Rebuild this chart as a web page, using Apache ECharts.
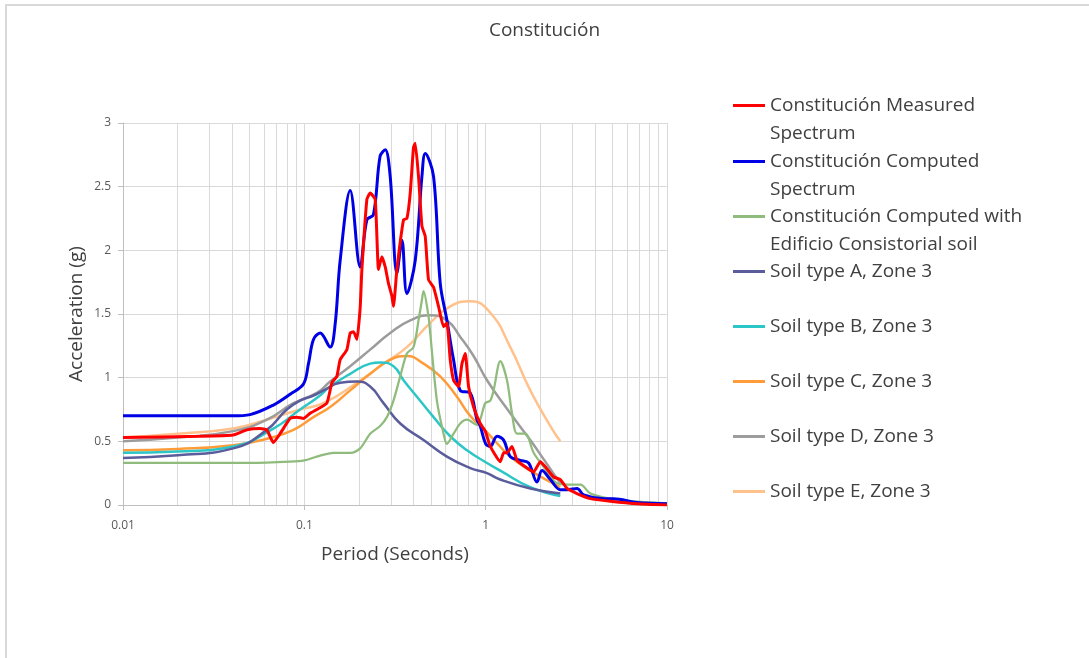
<!DOCTYPE html>
<html>
<head>
<meta charset="utf-8">
<script src="https://cdn.jsdelivr.net/npm/echarts@6/dist/echarts.min.js"></script>
<style>
html,body{margin:0;padding:0;background:#fff;}
#chart{width:1089px;height:658px;}
</style>
</head>
<body>
<div id="chart"></div>
<script>
// ---- Data (period in seconds, acceleration in g) ----
const titleText = 'Constitución';
const xAxisName = 'Period (Seconds)';
const yAxisName = 'Acceleration (g)';
const seriesNames = [
  'Constitución Measured Spectrum',
  'Constitución Computed Spectrum',
  'Constitución Computed with Edificio Consistorial soil',
  'Soil type A, Zone 3',
  'Soil type B, Zone 3',
  'Soil type C, Zone 3',
  'Soil type D, Zone 3',
  'Soil type E, Zone 3'
];
const legendLines = [
  ['Constitución Measured', 'Spectrum'],
  ['Constitución Computed', 'Spectrum'],
  ['Constitución Computed with', 'Edificio Consistorial soil'],
  ['Soil type A, Zone 3'],
  ['Soil type B, Zone 3'],
  ['Soil type C, Zone 3'],
  ['Soil type D, Zone 3'],
  ['Soil type E, Zone 3']
];
const minorGridPeriods = [0.02,0.03,0.04,0.05,0.06,0.07,0.08,0.09,
  0.2,0.3,0.4,0.5,0.6,0.7,0.8,0.9, 2,3,4,5,6,7,8,9];

const measured = [
  [0.01,0.53],[0.0266,0.54],[0.0405,0.55],[0.0482,0.59],[0.057,0.60],[0.0621,0.59],
  [0.0675,0.49],[0.0735,0.56],[0.0835,0.68],[0.0909,0.69],[0.0989,0.68],[0.1076,0.72],
  [0.1172,0.75],[0.1331,0.80],[0.1419,0.96],[0.1511,1.01],[0.1576,1.14],[0.1716,1.22],
  [0.179,1.35],[0.1867,1.36],[0.195,1.30],[0.2032,1.55],[0.2077,1.85],[0.2213,2.40],
  [0.2307,2.45],[0.246,2.40],[0.2564,1.85],[0.2677,1.95],[0.2793,1.87],[0.2911,1.74],
  [0.304,1.64],[0.3102,1.56],[0.324,1.85],[0.3524,2.24],[0.3679,2.25],[0.3837,2.45],
  [0.40,2.81],[0.4088,2.84],[0.4263,2.58],[0.4451,2.19],[0.4642,2.11],[0.484,1.77],
  [0.5159,1.71],[0.5495,1.56],[0.5858,1.40],[0.6114,1.43],[0.6377,1.14],[0.6651,0.98],
  [0.7087,0.93],[0.7401,1.11],[0.7718,1.19],[0.8048,0.93],[0.8575,0.77],[0.9333,0.64],
  [0.995,0.58],[1.06,0.46],[1.204,0.34],[1.256,0.41],[1.311,0.41],[1.397,0.46],
  [1.489,0.35],[1.618,0.31],[1.838,0.26],[2.001,0.34],[2.133,0.30],[2.37,0.22],
  [2.58,0.20],[2.81,0.13],[3.19,0.09],[3.78,0.05],[4.87,0.03],[6.84,0.01],[10,0.0]
];
const computed = [
  [0.01,0.70],[0.0405,0.70],[0.0502,0.71],[0.0675,0.785],[0.0835,0.87],[0.0989,0.95],
  [0.1054,1.11],[0.1123,1.30],[0.1222,1.35],[0.1388,1.24],[0.1479,1.42],[0.1576,1.92],
  [0.179,2.47],[0.2032,1.87],[0.2213,2.24],[0.2405,2.28],[0.2618,2.74],[0.2793,2.79],
  [0.2975,2.58],[0.324,1.82],[0.3452,2.08],[0.3679,1.66],[0.4088,1.92],[0.4451,2.58],
  [0.4642,2.76],[0.5159,2.58],[0.5616,1.74],[0.6114,1.45],[0.6651,1.14],[0.7242,0.90],
  [0.8222,0.88],[0.8954,0.67],[0.9333,0.62],[1.0,0.48],[1.06,0.46],[1.155,0.54],
  [1.256,0.51],[1.367,0.38],[1.552,0.35],[1.725,0.33],[1.919,0.18],[2.045,0.27],
  [2.273,0.20],[2.58,0.12],[2.81,0.12],[3.19,0.13],[3.47,0.08],[4.48,0.05],[5.08,0.05],
  [6.84,0.02],[10,0.01]
];
const computedSoil = [
  [0.01,0.33],[0.05,0.33],[0.0835,0.34],[0.1,0.35],[0.1172,0.38],[0.1447,0.41],
  [0.179,0.41],[0.2032,0.445],[0.2307,0.56],[0.2618,0.62],[0.2853,0.69],[0.3102,0.82],
  [0.3379,1.01],[0.3679,1.19],[0.40,1.24],[0.4263,1.45],[0.4451,1.61],[0.4542,1.68],
  [0.484,1.48],[0.4946,1.35],[0.5383,0.82],[0.5858,0.56],[0.6114,0.48],[0.6651,0.56],
  [0.7242,0.64],[0.7887,0.67],[0.8954,0.63],[0.9333,0.67],[0.995,0.80],[1.06,0.82],
  [1.106,0.90],[1.204,1.13],[1.311,0.98],[1.397,0.72],[1.489,0.56],[1.654,0.56],
  [1.838,0.41],[2.087,0.30],[2.475,0.17],[2.81,0.16],[3.33,0.16],[3.78,0.09],
  [4.87,0.05],[6.28,0.03],[10,0.013]
];
const soilA = [
  [0.01,0.37],[0.02,0.39],[0.0405,0.445],[0.0621,0.59],[0.080,0.75],[0.0948,0.82],
  [0.1123,0.86],[0.1275,0.90],[0.1576,0.96],[0.195,0.97],[0.2307,0.93],[0.2733,0.80],
  [0.3379,0.64],[0.4542,0.51],[0.6114,0.38],[0.8222,0.29],[1.017,0.25],[1.204,0.20],
  [1.762,0.13],[2.58,0.09]
];
const soilB = [
  [0.01,0.41],[0.02,0.42],[0.0405,0.46],[0.0675,0.60],[0.0948,0.75],[0.1196,0.85],
  [0.1388,0.93],[0.179,1.03],[0.2307,1.11],[0.2618,1.12],[0.3102,1.09],[0.3524,0.98],
  [0.4178,0.85],[0.5159,0.69],[0.6377,0.54],[0.7887,0.43],[1.017,0.33],[1.204,0.27],
  [1.762,0.14],[2.58,0.07]
];
const soilC = [
  [0.01,0.43],[0.02,0.44],[0.0405,0.47],[0.0621,0.52],[0.0871,0.59],[0.1123,0.69],
  [0.1388,0.77],[0.179,0.90],[0.2307,1.03],[0.2975,1.14],[0.3679,1.17],[0.4542,1.11],
  [0.5616,1.01],[0.6944,0.85],[0.8222,0.70],[1.017,0.57],[1.367,0.38],[1.762,0.27],
  [2.58,0.14]
];
const soilD = [
  [0.01,0.50],[0.02,0.53],[0.0405,0.58],[0.0621,0.67],[0.0871,0.80],[0.1172,0.88],
  [0.1388,0.97],[0.179,1.09],[0.2307,1.22],[0.2975,1.35],[0.3837,1.45],[0.4946,1.49],
  [0.6114,1.45],[0.7242,1.32],[0.8575,1.17],[1.017,0.98],[1.367,0.72],[1.762,0.51],
  [2.087,0.36],[2.58,0.17]
];
const soilE = [
  [0.01,0.53],[0.02,0.56],[0.0405,0.60],[0.0621,0.67],[0.0948,0.75],[0.1275,0.80],
  [0.195,0.96],[0.2733,1.11],[0.3679,1.24],[0.4946,1.43],[0.6377,1.56],[0.8222,1.60],
  [1.06,1.51],[1.367,1.24],[1.762,0.90],[2.273,0.62],[2.58,0.50]
];

// ---- Styles ----
const FONT = '"Open Sans", "DejaVu Sans", sans-serif';
const seriesData = [measured, computed, computedSoil, soilA, soilB, soilC, soilD, soilE];
const colors = ['#ff0000','#0000e6','#8fbc7c','#5a5c9c','#2cc6c6','#ff9c3a','#9c9c9c','#ffc28c'];
const widths = [3, 3, 2.25, 2.5, 2.5, 2.5, 2.5, 2.5];
const smooths = [0.15, 0.35, 0.3, 0.5, 0.5, 0.5, 0.5, 0.5];
const legendCenters = [104, 160, 215, 270, 325, 380, 435, 490];
const LH = 28;

const series = seriesData.map((d, i) => ({
  name: seriesNames[i],
  type: 'line',
  data: d,
  showSymbol: false,
  symbol: 'none',
  smooth: smooths[i],
  z: 10 - i,
  lineStyle: { color: colors[i], width: widths[i] },
  itemStyle: { color: colors[i] },
  emphasis: { disabled: true }
}));
// minor vertical gridlines of the log axis
series[0].markLine = {
  silent: true,
  symbol: 'none',
  z: 1,
  animation: false,
  label: { show: false },
  lineStyle: { color: '#d9d9d9', type: 'solid', width: 1 },
  data: minorGridPeriods.map(v => ({ xAxis: v }))
};

// one legend per entry; two-line entries get an empty leading line so the
// icon lines up with the first line of text (text block is centred on icon)
const legends = seriesNames.map((n, i) => {
  const lines = legendLines[i];
  const twoLine = lines.length > 1;
  const label = twoLine ? '\n' + lines.join('\n') : lines[0];
  const nLines = twoLine ? 3 : 1;
  return {
    show: true,
    orient: 'vertical',
    left: 733,
    top: legendCenters[i] - nLines * LH / 2 + 1.5,
    padding: 0,
    icon: 'rect',
    itemWidth: 32,
    itemHeight: 3,
    selectedMode: false,
    data: [n],
    formatter: () => label,
    textStyle: { fontFamily: FONT, fontSize: 19, color: '#404040', lineHeight: LH }
  };
});

const chart = echarts.init(document.getElementById('chart'), null, { renderer: 'canvas' });
chart.setOption({
  animation: false,
  backgroundColor: '#ffffff',
  title: {
    text: titleText,
    left: 'center',
    top: 21,
    padding: [0, 0, 0, 13],
    textStyle: { fontFamily: FONT, fontSize: 19, fontWeight: 'normal', color: '#404040' }
  },
  legend: legends,
  grid: { left: 123, top: 123, right: 422, bottom: 153, containLabel: false },
  xAxis: {
    type: 'log',
    logBase: 10,
    min: 0.01,
    max: 10,
    name: xAxisName,
    nameLocation: 'middle',
    nameGap: 40,
    nameTextStyle: { fontFamily: FONT, fontSize: 19, color: '#404040' },
    axisLine: { show: true, lineStyle: { color: '#bfbfbf', width: 1 } },
    axisTick: { show: true, length: 5, lineStyle: { color: '#bfbfbf' } },
    axisLabel: { fontFamily: FONT, fontSize: 12, color: '#595959', margin: 15 },
    splitLine: { show: true, lineStyle: { color: '#d9d9d9', width: 1 } }
  },
  yAxis: {
    type: 'value',
    min: 0,
    max: 3,
    interval: 0.5,
    name: yAxisName,
    nameLocation: 'middle',
    nameGap: 37,
    nameTextStyle: { fontFamily: FONT, fontSize: 19, color: '#404040' },
    axisLine: { show: true, lineStyle: { color: '#bfbfbf', width: 1 } },
    axisTick: { show: true, length: 5, lineStyle: { color: '#bfbfbf' } },
    axisLabel: { fontFamily: FONT, fontSize: 12, color: '#595959', margin: 12 },
    splitLine: { show: true, lineStyle: { color: '#d9d9d9', width: 1 } }
  },
  graphic: [{
    type: 'rect',
    silent: true,
    shape: { x: 6, y: 5, width: 1200, height: 800 },
    style: { fill: null, stroke: '#d9d9d9', lineWidth: 2 },
    z: -10
  }],
  series: series
});
</script>
</body>
</html>
